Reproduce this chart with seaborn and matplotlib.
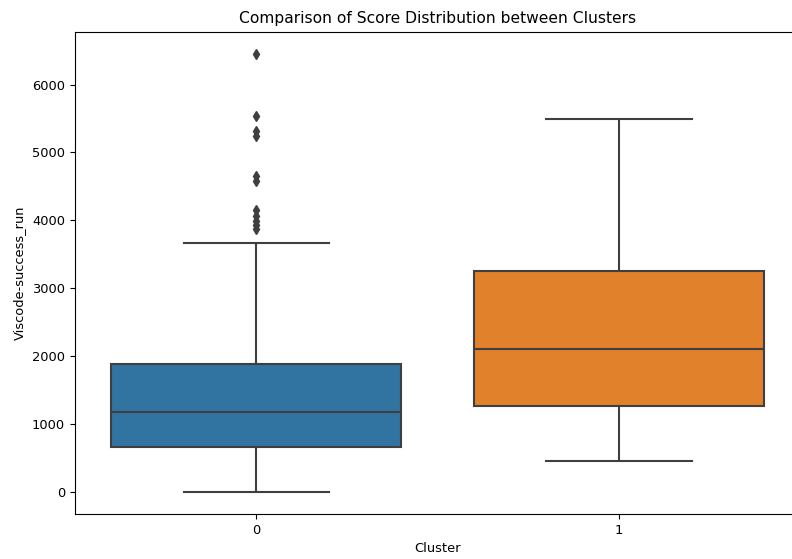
import seaborn as sns
import matplotlib.pyplot as plt
import pandas as pd

# scores
cluster0_scores = [
    0, 45, 110, 180, 240, 300, 360, 420, 480, 540, 590, 630,
    666, 710, 760, 800, 850, 900, 950, 1000, 1050, 1100, 1140, 1160,
    1181, 1230, 1280, 1340, 1400, 1460, 1520, 1590, 1660, 1730, 1800, 1850,
    1882, 3662,
    3880, 3930, 3990, 4070, 4160, 4580, 4660, 5245, 5315, 5540, 6455,
]
cluster1_scores = [456, 900, 1274, 1700, 2103, 2700, 3259, 4300, 5490]

clusters = ["0"] * len(cluster0_scores) + ["1"] * len(cluster1_scores)
scores = cluster0_scores + cluster1_scores
df = pd.DataFrame({"Cluster": clusters, "Viscode-success_run": scores})

fig = plt.figure(figsize=(7.92, 5.59), dpi=100)
ax = fig.add_axes([0.0943, 0.0805, 0.9164, 0.8628])

sns.boxplot(x="Cluster", y="Viscode-success_run", hue="Cluster", data=df,
            palette="tab10", legend=False, linecolor="#3f3f3f", linewidth=1.5,
            fliersize=5, flierprops={"marker": "d", "markerfacecolor": "#3f3f3f",
                                     "markeredgecolor": "#3f3f3f"}, ax=ax)

ax.tick_params(labelsize=9.4)
ax.set_xlabel("Cluster", fontsize=9.4)
ax.set_ylabel("Viscode-success_run", fontsize=9.4)
ax.set_title("Comparison of Score Distribution between Clusters", fontsize=11.2)

fig.savefig("out.png", dpi=100)
